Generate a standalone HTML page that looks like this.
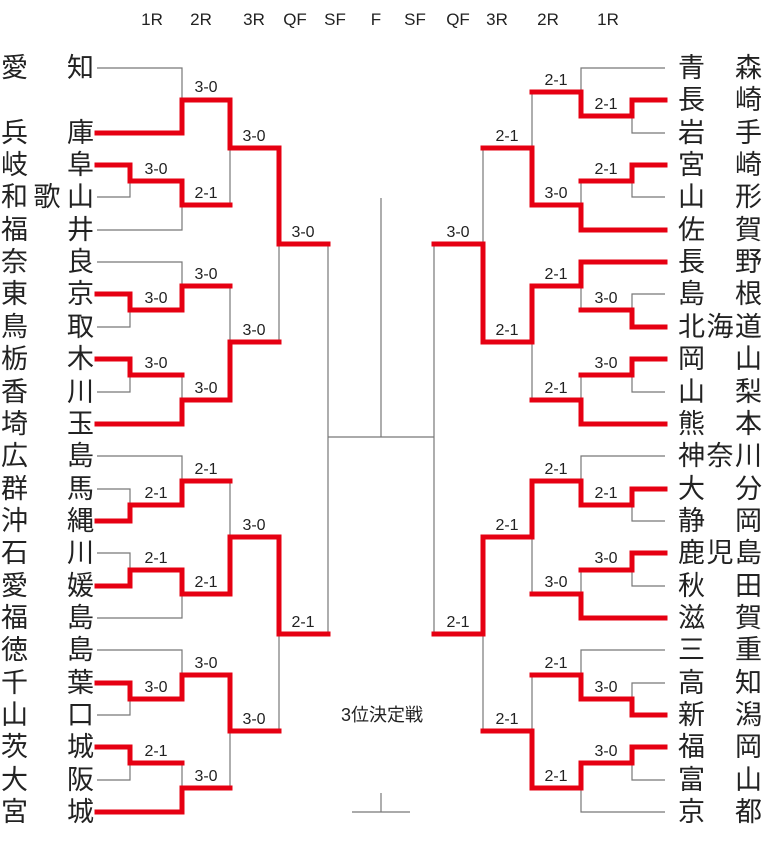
<!DOCTYPE html>
<html><head><meta charset="utf-8"><style>
html,body{margin:0;padding:0;background:#fff;}
svg{display:block;}
text{font-family:"Liberation Sans","Noto Sans CJK JP",sans-serif;fill:#222;}
.h{font-size:17px;text-anchor:middle;}
.l{font-size:16px;text-anchor:middle;}
.t{font-size:27px;}
.g{fill:none;stroke:#777;stroke-width:1.2;}
.r{fill:none;stroke:#e60012;stroke-width:5;stroke-linejoin:miter;stroke-linecap:square;}
</style></head><body>
<svg width="762" height="850" viewBox="0 0 762 850" xmlns="http://www.w3.org/2000/svg">
<g class="h">
<text x="152" y="25">1R</text><text x="201" y="25">2R</text><text x="254" y="25">3R</text><text x="295" y="25">QF</text><text x="335" y="25">SF</text><text x="376" y="25">F</text><text x="415" y="25">SF</text><text x="458" y="25">QF</text><text x="497" y="25">3R</text><text x="548" y="25">2R</text><text x="608" y="25">1R</text>
</g>
<g class="g">
<path d="M97,68 H182 V100"/><path d="M97,197 H130 V181"/><path d="M97,230 H182 V205"/><path d="M230,148 V205"/>
<path d="M97,262 H182 V286"/><path d="M97,327 H130 V310"/><path d="M97,392 H130 V375"/><path d="M182,375 V400"/><path d="M230,286 V342"/><path d="M279,244 V342"/>
<path d="M97,456 H182 V481"/><path d="M97,489 H130 V505"/><path d="M97,553 H130 V570"/><path d="M97,618 H182 V594"/><path d="M230,481 V537"/>
<path d="M97,650 H182 V675"/><path d="M97,715 H130 V699"/><path d="M97,780 H130 V763"/><path d="M182,763 V788"/><path d="M230,731 V788"/><path d="M279,634 V731"/>
<path d="M328,244 V634"/><path d="M328,437 H434"/><path d="M381,198 V437"/>
<path d="M665,68 H581 V92"/><path d="M665,133 H632 V116"/><path d="M665,197 H632 V181"/><path d="M581,181 V205"/><path d="M532,92 V148"/>
<path d="M665,294 H632 V310"/><path d="M581,310 V286"/><path d="M665,392 H632 V375"/><path d="M581,375 V400"/><path d="M532,342 V400"/><path d="M483,148 V244"/>
<path d="M665,456 H581 V481"/><path d="M665,521 H632 V505"/><path d="M665,586 H632 V570"/><path d="M581,570 V594"/><path d="M532,537 V594"/>
<path d="M665,650 H581 V675"/><path d="M665,683 H632 V699"/><path d="M665,780 H632 V763"/><path d="M665,812 H581 V788"/><path d="M532,675 V731"/><path d="M483,634 V731"/>
<path d="M434,244 V634"/>
<path d="M381,793 V812"/><path d="M352,812 H410"/>
</g>
<g class="r">
<path d="M97,133 H182 V100 H230 V148 H279 V244 H328"/>
<path d="M97,165 H130 V181 H182 V205 H230"/>
<path d="M97,294 H130 V310 H182 V286 H230"/>
<path d="M97,359 H130 V375 H182"/>
<path d="M97,424 H182 V400 H230 V342 H279"/>
<path d="M97,521 H130 V505 H182 V481 H230"/>
<path d="M97,586 H130 V570 H182 V594 H230 V537 H279 V634 H328"/>
<path d="M97,683 H130 V699 H182 V675 H230 V731 H279"/>
<path d="M97,747 H130 V763 H182"/>
<path d="M97,812 H182 V788 H230"/>
<path d="M665,100 H632 V116 H581 V92 H532"/>
<path d="M665,165 H632 V181 H581"/>
<path d="M665,230 H581 V205 H532 V148 H483"/>
<path d="M665,262 H581 V286 H532 V342 H483 V244 H434"/>
<path d="M665,327 H632 V310 H581"/>
<path d="M665,359 H632 V375 H581"/>
<path d="M665,424 H581 V400 H532"/>
<path d="M665,489 H632 V505 H581 V481 H532 V537 H483 V634 H434"/>
<path d="M665,553 H632 V570 H581"/>
<path d="M665,618 H581 V594 H532"/>
<path d="M665,715 H632 V699 H581 V675 H532"/>
<path d="M665,747 H632 V763 H581 V788 H532 V731 H483"/>
</g>
<g class="l">
<text x="206" y="92">3-0</text><text x="156" y="174">3-0</text><text x="206" y="198">2-1</text><text x="254" y="141">3-0</text>
<text x="156" y="303">3-0</text><text x="206" y="279">3-0</text><text x="156" y="368">3-0</text><text x="206" y="393">3-0</text><text x="254" y="335">3-0</text><text x="303" y="237">3-0</text>
<text x="156" y="498">2-1</text><text x="206" y="474">2-1</text><text x="156" y="563">2-1</text><text x="206" y="587">2-1</text><text x="254" y="530">3-0</text>
<text x="156" y="692">3-0</text><text x="206" y="668">3-0</text><text x="156" y="756">2-1</text><text x="206" y="781">3-0</text><text x="254" y="724">3-0</text><text x="303" y="627">2-1</text>
<text x="606" y="109">2-1</text><text x="556" y="85">2-1</text><text x="606" y="174">2-1</text><text x="556" y="198">3-0</text><text x="507" y="141">2-1</text>
<text x="606" y="303">3-0</text><text x="556" y="279">2-1</text><text x="606" y="368">3-0</text><text x="556" y="393">2-1</text><text x="507" y="335">2-1</text><text x="458" y="237">3-0</text>
<text x="606" y="498">2-1</text><text x="556" y="474">2-1</text><text x="606" y="563">3-0</text><text x="556" y="587">3-0</text><text x="507" y="530">2-1</text>
<text x="606" y="692">3-0</text><text x="556" y="668">2-1</text><text x="606" y="756">3-0</text><text x="556" y="781">2-1</text><text x="507" y="724">2-1</text><text x="458" y="627">2-1</text>
</g>
<text x="382" y="721" style="font-size:18px;text-anchor:middle">3位決定戦</text>
<g class="t">
<text x="1" y="77">愛</text><text x="94" y="77" text-anchor="end">知</text>
<text x="1" y="142">兵</text><text x="94" y="142" text-anchor="end">庫</text>
<text x="1" y="174">岐</text><text x="94" y="174" text-anchor="end">阜</text>
<text x="1" y="206">和</text><text x="47" y="206" text-anchor="middle">歌</text><text x="94" y="206" text-anchor="end">山</text>
<text x="1" y="239">福</text><text x="94" y="239" text-anchor="end">井</text>
<text x="1" y="271">奈</text><text x="94" y="271" text-anchor="end">良</text>
<text x="1" y="303">東</text><text x="94" y="303" text-anchor="end">京</text>
<text x="1" y="336">鳥</text><text x="94" y="336" text-anchor="end">取</text>
<text x="1" y="368">栃</text><text x="94" y="368" text-anchor="end">木</text>
<text x="1" y="401">香</text><text x="94" y="401" text-anchor="end">川</text>
<text x="1" y="433">埼</text><text x="94" y="433" text-anchor="end">玉</text>
<text x="1" y="465">広</text><text x="94" y="465" text-anchor="end">島</text>
<text x="1" y="498">群</text><text x="94" y="498" text-anchor="end">馬</text>
<text x="1" y="530">沖</text><text x="94" y="530" text-anchor="end">縄</text>
<text x="1" y="562">石</text><text x="94" y="562" text-anchor="end">川</text>
<text x="1" y="595">愛</text><text x="94" y="595" text-anchor="end">媛</text>
<text x="1" y="627">福</text><text x="94" y="627" text-anchor="end">島</text>
<text x="1" y="659">徳</text><text x="94" y="659" text-anchor="end">島</text>
<text x="1" y="692">千</text><text x="94" y="692" text-anchor="end">葉</text>
<text x="1" y="724">山</text><text x="94" y="724" text-anchor="end">口</text>
<text x="1" y="756">茨</text><text x="94" y="756" text-anchor="end">城</text>
<text x="1" y="789">大</text><text x="94" y="789" text-anchor="end">阪</text>
<text x="1" y="821">宮</text><text x="94" y="821" text-anchor="end">城</text>
</g>
<g class="t">
<text x="678" y="77">青</text><text x="762" y="77" text-anchor="end">森</text>
<text x="678" y="109">長</text><text x="762" y="109" text-anchor="end">崎</text>
<text x="678" y="142">岩</text><text x="762" y="142" text-anchor="end">手</text>
<text x="678" y="174">宮</text><text x="762" y="174" text-anchor="end">崎</text>
<text x="678" y="206">山</text><text x="762" y="206" text-anchor="end">形</text>
<text x="678" y="239">佐</text><text x="762" y="239" text-anchor="end">賀</text>
<text x="678" y="271">長</text><text x="762" y="271" text-anchor="end">野</text>
<text x="678" y="303">島</text><text x="762" y="303" text-anchor="end">根</text>
<text x="678" y="336">北</text><text x="720" y="336" text-anchor="middle">海</text><text x="762" y="336" text-anchor="end">道</text>
<text x="678" y="368">岡</text><text x="762" y="368" text-anchor="end">山</text>
<text x="678" y="401">山</text><text x="762" y="401" text-anchor="end">梨</text>
<text x="678" y="433">熊</text><text x="762" y="433" text-anchor="end">本</text>
<text x="678" y="465">神</text><text x="720" y="465" text-anchor="middle">奈</text><text x="762" y="465" text-anchor="end">川</text>
<text x="678" y="498">大</text><text x="762" y="498" text-anchor="end">分</text>
<text x="678" y="530">静</text><text x="762" y="530" text-anchor="end">岡</text>
<text x="678" y="562">鹿</text><text x="720" y="562" text-anchor="middle">児</text><text x="762" y="562" text-anchor="end">島</text>
<text x="678" y="595">秋</text><text x="762" y="595" text-anchor="end">田</text>
<text x="678" y="627">滋</text><text x="762" y="627" text-anchor="end">賀</text>
<text x="678" y="659">三</text><text x="762" y="659" text-anchor="end">重</text>
<text x="678" y="692">高</text><text x="762" y="692" text-anchor="end">知</text>
<text x="678" y="724">新</text><text x="762" y="724" text-anchor="end">潟</text>
<text x="678" y="756">福</text><text x="762" y="756" text-anchor="end">岡</text>
<text x="678" y="789">富</text><text x="762" y="789" text-anchor="end">山</text>
<text x="678" y="821">京</text><text x="762" y="821" text-anchor="end">都</text>
</g>
</svg>
</body></html>
